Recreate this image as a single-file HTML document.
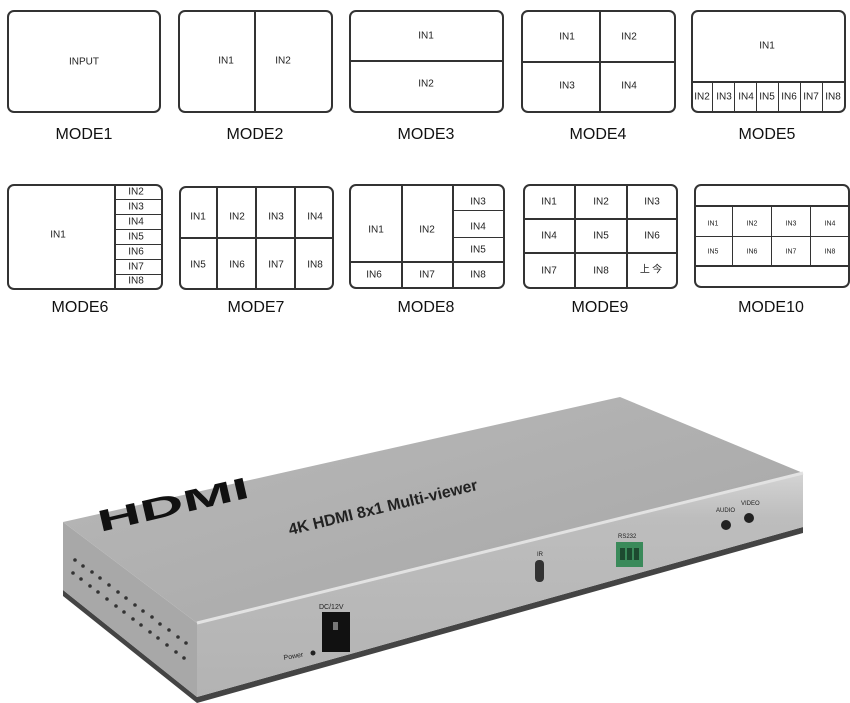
<!DOCTYPE html>
<html><head><meta charset="utf-8"><style>
body{margin:0;width:850px;height:703px;background:#fff;position:relative;overflow:hidden;font-family:"Liberation Sans",sans-serif}
.b{position:absolute;border:2px solid #333;border-radius:7px;box-sizing:border-box;background:#fff}
.l{position:absolute;background:#333}
.t{position:absolute;font-size:10px;color:#222;transform:translate(-50%,-50%);white-space:nowrap}
.m{position:absolute;font-size:16px;color:#111;transform:translate(-50%,-50%)}
</style></head><body>
<!-- Row 1 -->
<div class="b" style="left:7px;top:10px;width:154px;height:103px"></div>
<div class="t" style="left:84px;top:62px">INPUT</div>
<div class="b" style="left:178px;top:10px;width:155px;height:103px"></div>
<div class="l" style="left:254px;top:10px;width:2px;height:103px"></div>
<div class="t" style="left:226px;top:61px">IN1</div><div class="t" style="left:283px;top:61px">IN2</div>
<div class="b" style="left:349px;top:10px;width:155px;height:103px"></div>
<div class="l" style="left:349px;top:60px;width:155px;height:2px"></div>
<div class="t" style="left:426px;top:36px">IN1</div><div class="t" style="left:426px;top:84px">IN2</div>
<div class="b" style="left:521px;top:10px;width:155px;height:103px"></div>
<div class="l" style="left:599px;top:10px;width:2px;height:103px"></div>
<div class="l" style="left:521px;top:61px;width:155px;height:2px"></div>
<div class="t" style="left:567px;top:37px">IN1</div><div class="t" style="left:629px;top:37px">IN2</div>
<div class="t" style="left:567px;top:86px">IN3</div><div class="t" style="left:629px;top:86px">IN4</div>
<div class="b" style="left:691px;top:10px;width:155px;height:103px"></div>
<div class="l" style="left:691px;top:81px;width:155px;height:2px"></div>
<div class="t" style="left:767px;top:46px">IN1</div>
<div class="l" style="left:712px;top:81px;width:1px;height:31px"></div><div class="l" style="left:734px;top:81px;width:1px;height:31px"></div><div class="l" style="left:756px;top:81px;width:1px;height:31px"></div><div class="l" style="left:778px;top:81px;width:1px;height:31px"></div><div class="l" style="left:800px;top:81px;width:1px;height:31px"></div><div class="l" style="left:822px;top:81px;width:1px;height:31px"></div>
<div class="t" style="left:702px;top:97px">IN2</div><div class="t" style="left:724px;top:97px">IN3</div><div class="t" style="left:746px;top:97px">IN4</div><div class="t" style="left:767px;top:97px">IN5</div><div class="t" style="left:789px;top:97px">IN6</div><div class="t" style="left:811px;top:97px">IN7</div><div class="t" style="left:833px;top:97px">IN8</div>
<div class="m" style="left:84px;top:135px">MODE1</div><div class="m" style="left:255px;top:135px">MODE2</div><div class="m" style="left:426px;top:135px">MODE3</div><div class="m" style="left:598px;top:135px">MODE4</div><div class="m" style="left:767px;top:135px">MODE5</div>
<!-- Row 2 -->
<div class="b" style="left:7px;top:184px;width:156px;height:106px"></div>
<div class="l" style="left:114px;top:184px;width:2px;height:106px"></div>
<div class="l" style="left:114px;top:199px;width:48px;height:1px"></div><div class="l" style="left:114px;top:214px;width:48px;height:1px"></div><div class="l" style="left:114px;top:229px;width:48px;height:1px"></div><div class="l" style="left:114px;top:244px;width:48px;height:1px"></div><div class="l" style="left:114px;top:259px;width:48px;height:1px"></div><div class="l" style="left:114px;top:274px;width:48px;height:1px"></div>
<div class="t" style="left:58px;top:235px">IN1</div>
<div class="t" style="left:136px;top:192px">IN2</div><div class="t" style="left:136px;top:207px">IN3</div><div class="t" style="left:136px;top:222px">IN4</div><div class="t" style="left:136px;top:237px">IN5</div><div class="t" style="left:136px;top:252px">IN6</div><div class="t" style="left:136px;top:267px">IN7</div><div class="t" style="left:136px;top:281px">IN8</div>
<div class="b" style="left:179px;top:186px;width:155px;height:104px"></div>
<div class="l" style="left:179px;top:237px;width:155px;height:2px"></div>
<div class="l" style="left:216px;top:186px;width:2px;height:104px"></div><div class="l" style="left:255px;top:186px;width:2px;height:104px"></div><div class="l" style="left:294px;top:186px;width:2px;height:104px"></div>
<div class="t" style="left:198px;top:217px">IN1</div><div class="t" style="left:237px;top:217px">IN2</div><div class="t" style="left:276px;top:217px">IN3</div><div class="t" style="left:315px;top:217px">IN4</div>
<div class="t" style="left:198px;top:265px">IN5</div><div class="t" style="left:237px;top:265px">IN6</div><div class="t" style="left:276px;top:265px">IN7</div><div class="t" style="left:315px;top:265px">IN8</div>
<div class="b" style="left:349px;top:184px;width:156px;height:105px"></div>
<div class="l" style="left:349px;top:261px;width:155px;height:2px"></div>
<div class="l" style="left:401px;top:184px;width:2px;height:105px"></div><div class="l" style="left:452px;top:184px;width:2px;height:105px"></div>
<div class="l" style="left:452px;top:210px;width:52px;height:1px"></div><div class="l" style="left:452px;top:237px;width:52px;height:1px"></div>
<div class="t" style="left:376px;top:230px">IN1</div><div class="t" style="left:427px;top:230px">IN2</div>
<div class="t" style="left:478px;top:202px">IN3</div><div class="t" style="left:478px;top:227px">IN4</div><div class="t" style="left:478px;top:250px">IN5</div>
<div class="t" style="left:374px;top:275px">IN6</div><div class="t" style="left:427px;top:275px">IN7</div><div class="t" style="left:478px;top:275px">IN8</div>
<div class="b" style="left:523px;top:184px;width:155px;height:105px"></div>
<div class="l" style="left:523px;top:218px;width:155px;height:2px"></div><div class="l" style="left:523px;top:252px;width:155px;height:2px"></div>
<div class="l" style="left:574px;top:184px;width:2px;height:105px"></div><div class="l" style="left:626px;top:184px;width:2px;height:105px"></div>
<div class="t" style="left:549px;top:202px">IN1</div><div class="t" style="left:601px;top:202px">IN2</div><div class="t" style="left:652px;top:202px">IN3</div>
<div class="t" style="left:549px;top:236px">IN4</div><div class="t" style="left:601px;top:236px">IN5</div><div class="t" style="left:652px;top:236px">IN6</div>
<div class="t" style="left:549px;top:271px">IN7</div><div class="t" style="left:601px;top:271px">IN8</div>
<div class="t" style="left:651px;top:268px;font-family:'Noto Sans CJK SC',sans-serif;font-size:10px">上 今</div>
<div class="b" style="left:694px;top:184px;width:156px;height:104px"></div>
<div class="l" style="left:694px;top:205px;width:156px;height:2px"></div><div class="l" style="left:694px;top:265px;width:156px;height:2px"></div>
<div class="l" style="left:694px;top:236px;width:156px;height:1px"></div>
<div class="l" style="left:732px;top:205px;width:1px;height:61px"></div><div class="l" style="left:771px;top:205px;width:1px;height:61px"></div><div class="l" style="left:810px;top:205px;width:1px;height:61px"></div>
<div class="t" style="left:713px;top:224px;font-size:7px">IN1</div><div class="t" style="left:752px;top:224px;font-size:7px">IN2</div><div class="t" style="left:791px;top:224px;font-size:7px">IN3</div><div class="t" style="left:830px;top:224px;font-size:7px">IN4</div>
<div class="t" style="left:713px;top:252px;font-size:7px">IN5</div><div class="t" style="left:752px;top:252px;font-size:7px">IN6</div><div class="t" style="left:791px;top:252px;font-size:7px">IN7</div><div class="t" style="left:830px;top:252px;font-size:7px">IN8</div>
<div class="m" style="left:80px;top:308px">MODE6</div><div class="m" style="left:256px;top:308px">MODE7</div><div class="m" style="left:426px;top:308px">MODE8</div><div class="m" style="left:600px;top:308px">MODE9</div><div class="m" style="left:771px;top:308px">MODE10</div>
<!-- Device -->
<svg style="position:absolute;left:0;top:0" width="850" height="703">
<defs>
<linearGradient id="tg" x1="0" y1="0" x2="1" y2="1"><stop offset="0" stop-color="#b9b9b9"/><stop offset="1" stop-color="#a6a6a6"/></linearGradient>
<linearGradient id="fg" x1="0" y1="0" x2="0" y2="1"><stop offset="0" stop-color="#d4d4d4"/><stop offset="0.2" stop-color="#bdbdbd"/><stop offset="1" stop-color="#b3b3b3"/></linearGradient>
</defs>
<polygon points="63,590 197,697 803,527 803,533 197,703 63,596" fill="#444"/>
<polygon points="63,522 197,623 197,697 63,590" fill="#a8a8a8"/>
<polygon points="197,623 803,473 803,527 197,697" fill="url(#fg)"/>
<polygon points="63,522 620,397 803,473 197,623" fill="url(#tg)"/>
<line x1="197" y1="623" x2="803" y2="473" stroke="#e2e2e2" stroke-width="3"/>
<g fill="#333">
<circle cx="75" cy="560" r="1.8"/><circle cx="83" cy="566" r="1.8"/><circle cx="92" cy="572" r="1.8"/><circle cx="100" cy="578" r="1.8"/><circle cx="109" cy="585" r="1.8"/><circle cx="118" cy="592" r="1.8"/><circle cx="126" cy="598" r="1.8"/><circle cx="135" cy="605" r="1.8"/><circle cx="143" cy="611" r="1.8"/><circle cx="152" cy="617" r="1.8"/><circle cx="160" cy="624" r="1.8"/><circle cx="169" cy="630" r="1.8"/><circle cx="178" cy="637" r="1.8"/><circle cx="186" cy="643" r="1.8"/>
<circle cx="73" cy="573" r="1.8"/><circle cx="81" cy="579" r="1.8"/><circle cx="90" cy="586" r="1.8"/><circle cx="98" cy="592" r="1.8"/><circle cx="107" cy="599" r="1.8"/><circle cx="116" cy="606" r="1.8"/><circle cx="124" cy="612" r="1.8"/><circle cx="133" cy="619" r="1.8"/><circle cx="141" cy="625" r="1.8"/><circle cx="150" cy="632" r="1.8"/><circle cx="158" cy="638" r="1.8"/><circle cx="167" cy="645" r="1.8"/><circle cx="176" cy="652" r="1.8"/><circle cx="184" cy="658" r="1.8"/>
</g>
<text x="100" y="532" font-family="Liberation Sans" font-weight="bold" font-size="30" fill="#111" transform="rotate(-13 100 532)" textLength="155" lengthAdjust="spacingAndGlyphs">HDMI</text>
<text x="290" y="535" font-family="Liberation Sans" font-weight="bold" font-size="16" fill="#222" transform="rotate(-13.5 290 535)">4K HDMI 8x1 Multi-viewer</text>
<rect x="322" y="612" width="28" height="40" fill="#111"/>
<rect x="333" y="622" width="5" height="8" fill="#777"/>
<text x="319" y="609" font-family="Liberation Sans" font-size="7" fill="#222">DC/12V</text>
<text x="284" y="660" font-family="Liberation Sans" font-size="7" fill="#222" transform="rotate(-10 284 660)">Power</text>
<circle cx="313" cy="653" r="2.5" fill="#222"/>
<rect x="535" y="560" width="9" height="22" rx="4" fill="#333"/>
<text x="537" y="556" font-family="Liberation Sans" font-size="6" fill="#222">IR</text>
<rect x="616" y="542" width="27" height="25" fill="#3a8a5a"/>
<rect x="620" y="548" width="5" height="12" fill="#1d4a30"/><rect x="627" y="548" width="5" height="12" fill="#1d4a30"/><rect x="634" y="548" width="5" height="12" fill="#1d4a30"/>
<text x="618" y="538" font-family="Liberation Sans" font-size="6" fill="#222">RS232</text>
<circle cx="726" cy="525" r="5" fill="#222"/><circle cx="749" cy="518" r="5" fill="#222"/>
<text x="716" y="512" font-family="Liberation Sans" font-size="6" fill="#222">AUDIO</text>
<text x="741" y="505" font-family="Liberation Sans" font-size="6" fill="#222">VIDEO</text>
</svg>
</body></html>
